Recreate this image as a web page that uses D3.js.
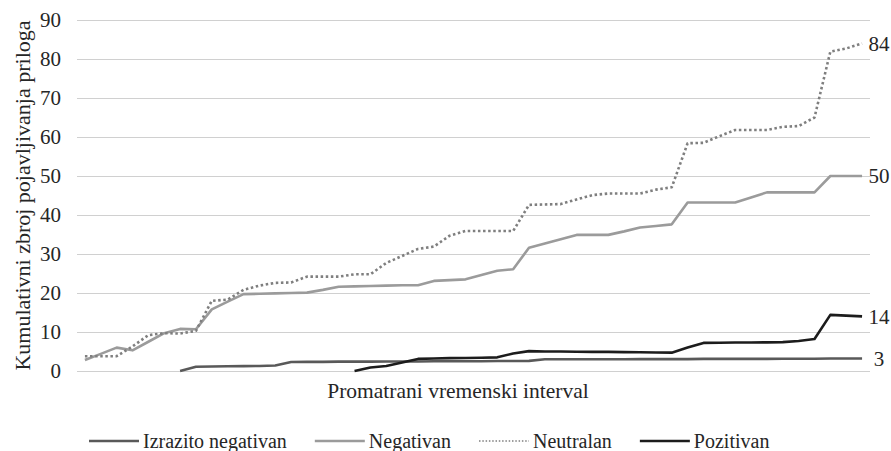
<!DOCTYPE html>
<html>
<head>
<meta charset="utf-8">
<script src="https://cdn.jsdelivr.net/npm/d3@7"></script>
<style>
  html, body { margin: 0; padding: 0; background: #fff; }
  svg text { font-family: "Liberation Serif", "Times New Roman", serif; fill: #262626; }
</style>
</head>
<body>
<div id="chart"></div>
<script>
// Values, one entry per time step (null = not yet present)
const izrazitoNegativan = [null, null, null, null, null, null, 0, 1.1, 1.15, 1.2, 1.25, 1.3, 1.4, 2.3, 2.35, 2.35, 2.4, 2.4, 2.4, 2.45, 2.45, 2.45, 2.5, 2.5, 2.5, 2.5, 2.55, 2.55, 2.6, 3.0, 3.0, 3.0, 3.0, 3.0, 3.0, 3.05, 3.05, 3.05, 3.05, 3.1, 3.1, 3.1, 3.1, 3.1, 3.15, 3.15, 3.15, 3.2, 3.2, 3.2];
const negativan = [2.8, 4.4, 6.0, 5.3, 7.5, 9.7, 10.8, 10.7, 15.8, 17.8, 19.7, 19.8, 19.9, 20.0, 20.1, 20.8, 21.6, 21.7, 21.8, 21.9, 22.0, 22.0, 23.1, 23.3, 23.5, 24.6, 25.7, 26.1, 31.6, 32.7, 33.8, 34.9, 34.9, 34.9, 35.8, 36.8, 37.2, 37.6, 43.2, 43.2, 43.2, 43.2, 44.5, 45.8, 45.8, 45.8, 45.8, 50, 50, 50];
const neutralan = [3.8, 3.8, 3.8, 6.3, 9.2, 9.7, 9.6, 10.3, 18.0, 18.3, 20.8, 21.9, 22.6, 22.7, 24.2, 24.2, 24.2, 24.8, 24.8, 27.7, 29.5, 31.3, 31.9, 34.7, 35.9, 35.9, 35.9, 35.9, 42.6, 42.7, 42.8, 44.0, 45.1, 45.5, 45.5, 45.5, 46.5, 47.1, 58.4, 58.5, 60.2, 61.8, 61.8, 61.8, 62.6, 62.8, 65.0, 81.9, 82.7, 84];
const pozitivan = [null, null, null, null, null, null, null, null, null, null, null, null, null, null, null, null, null, 0, 0.9, 1.3, 2.2, 3.1, 3.2, 3.3, 3.35, 3.4, 3.5, 4.5, 5.1, 5.0, 5.0, 4.95, 4.9, 4.9, 4.85, 4.8, 4.75, 4.7, 6.0, 7.2, 7.25, 7.3, 7.3, 7.35, 7.4, 7.7, 8.2, 14.4, 14.2, 14];

const seriesNames = ["Izrazito negativan", "Negativan", "Neutralan", "Pozitivan"];
const yTicks = [0, 10, 20, 30, 40, 50, 60, 70, 80, 90];
const yTitle = "Kumulativni zbroj pojavljivanja priloga";
const xTitle = "Promatrani vremenski interval";

const width = 891, height = 451;
const plot = { left: 77, right: 870, top: 20, bottom: 371 };
const serif = '"Liberation Serif", "Times New Roman", serif';

const series = [
    { name: seriesNames[0], values: izrazitoNegativan, color: "#595959", dash: null },
    { name: seriesNames[1], values: negativan, color: "#9b9b9b", dash: null },
    { name: seriesNames[2], values: neutralan, color: "#7f7f7f", dash: "2.5 2.6" },
    { name: seriesNames[3], values: pozitivan, color: "#1c1c1c", dash: null }
];

const svg = d3.select("#chart").append("svg")
    .attr("width", width)
    .attr("height", height);

const x = d3.scalePoint()
    .domain(d3.range(negativan.length))
    .range([plot.left, plot.right])
    .padding(0.5);

const y = d3.scaleLinear()
    .domain([0, 90])
    .range([plot.bottom, plot.top]);

// gridlines + tick labels
const yAxis = d3.axisLeft(y)
    .tickValues(yTicks)
    .tickSize(-(plot.right - plot.left))
    .tickPadding(16);

const axisG = svg.append("g")
    .attr("transform", `translate(${plot.left},0)`)
    .call(yAxis)
    .attr("font-family", serif)
    .attr("font-size", 21);
axisG.select(".domain").remove();
axisG.selectAll(".tick line").attr("stroke", "#d0d0d0").attr("stroke-width", 1);
axisG.selectAll(".tick text").attr("fill", "#262626");

// lines
const line = d3.line()
    .defined(d => d != null)
    .x((d, i) => x(i))
    .y(d => y(d));

svg.append("g").selectAll("path")
    .data(series)
    .join("path")
    .attr("d", s => line(s.values))
    .attr("fill", "none")
    .attr("stroke", s => s.color)
    .attr("stroke-width", 2.6)
    .attr("stroke-linejoin", "round")
    .attr("stroke-dasharray", s => s.dash);

// end-of-line labels
svg.append("g").selectAll("text")
    .data(series)
    .join("text")
    .attr("x", x(negativan.length - 1) + 17)
    .attr("y", s => y(s.values[s.values.length - 1]))
    .attr("dy", "0.35em")
    .attr("text-anchor", "middle")
    .style("font-family", serif)
    .style("font-size", "21px")
    .text(s => Math.round(s.values[s.values.length - 1]));

// axis titles
svg.append("text")
    .attr("transform", `translate(30,${(plot.top + plot.bottom) / 2}) rotate(-90)`)
    .attr("text-anchor", "middle")
    .style("font-family", serif)
    .style("font-size", "22px")
    .text(yTitle);

svg.append("text")
    .attr("x", 458)
    .attr("y", 398)
    .attr("text-anchor", "middle")
    .style("font-family", serif)
    .style("font-size", "21.5px")
    .text(xTitle);

// legend
const legend = svg.append("g").attr("transform", "translate(89,441)");
let cursor = 0;
series.forEach(s => {
    legend.append("line")
        .attr("x1", cursor).attr("x2", cursor + 50)
        .attr("y1", 0).attr("y2", 0)
        .attr("stroke", s.color)
        .attr("stroke-width", s.dash ? 1.5 : 2.6)
        .attr("stroke-dasharray", s.dash ? "1.5 1.8" : null);
    const t = legend.append("text")
        .attr("x", cursor + 54)
        .attr("y", 0)
        .attr("dy", "0.35em")
        .style("font-family", serif)
        .style("font-size", "20px")
        .text(s.name);
    cursor += 54 + t.node().getComputedTextLength() + 28;
});
</script>
</body>
</html>
